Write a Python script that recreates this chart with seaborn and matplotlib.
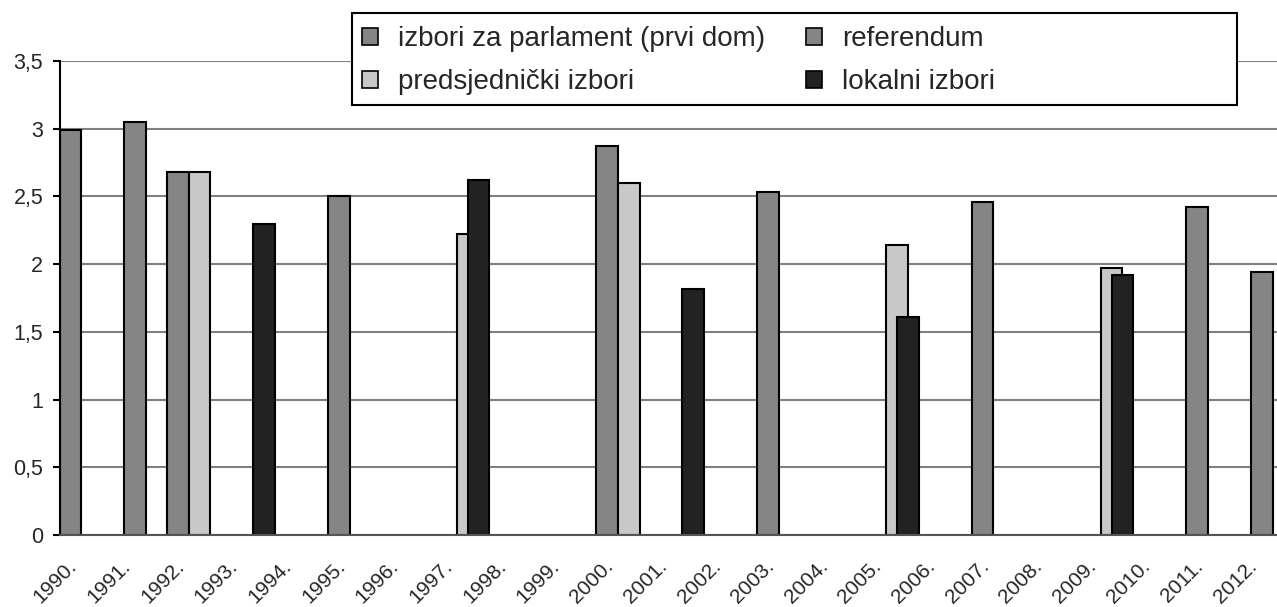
import pandas as pd
import seaborn as sns
import matplotlib.pyplot as plt
import matplotlib.transforms as mtransforms
from matplotlib.patches import Patch, Rectangle

years = ['1990.', '1991.', '1992.', '1993.', '1994.', '1995.', '1996.', '1997.',
         '1998.', '1999.', '2000.', '2001.', '2002.', '2003.', '2004.', '2005.',
         '2006.', '2007.', '2008.', '2009.', '2010.', '2011.', '2012.']

parl_years = ['1990.', '1992.', '1995.', '2000.', '2003.', '2007.', '2011.']
parl_vals = [2.99, 2.68, 2.50, 2.87, 2.53, 2.46, 2.42]
ref_years = ['1991.', '2012.']
ref_vals = [3.05, 1.94]
pres_years = ['1992.', '1997.', '2000.', '2005.', '2009.']
pres_vals = [2.68, 2.22, 2.60, 2.14, 1.97]
local_years = ['1993.', '1997.', '2001.', '2005.', '2009.']
local_vals = [2.30, 2.62, 1.82, 1.61, 1.92]

s_parl = 'izbori za parlament (prvi dom)'
s_ref = 'referendum'
s_pres = 'predsjednički izbori'
s_local = 'lokalni izbori'
hue_order = [s_parl, s_ref, s_pres, s_local]
colors = {s_parl: '#858585', s_ref: '#858585', s_pres: '#c8c8c8', s_local: '#222222'}

yticks = [0, 0.5, 1, 1.5, 2, 2.5, 3, 3.5]
ytick_labels = ['0', '0,5', '1', '1,5', '2', '2,5', '3', '3,5']

df = pd.concat([
    pd.DataFrame({'godina': parl_years, 'vrsta': s_parl, 'vrijednost': parl_vals}),
    pd.DataFrame({'godina': ref_years, 'vrsta': s_ref, 'vrijednost': ref_vals}),
    pd.DataFrame({'godina': pres_years, 'vrsta': s_pres, 'vrijednost': pres_vals}),
    pd.DataFrame({'godina': local_years, 'vrsta': s_local, 'vrijednost': local_vals}),
], ignore_index=True)

sns.set_style('white')
plt.rcParams['font.family'] = ['Liberation Sans', 'DejaVu Sans']

W, H = 1277, 607
fig = plt.figure(figsize=(W / 100, H / 100), dpi=100)
ax = fig.add_axes([60 / W, 72 / H, (W - 60) / W, 474 / H])

sns.barplot(data=df, x='godina', y='vrijednost', hue='vrsta', order=years,
            hue_order=hue_order, palette=colors, width=0.808, saturation=1,
            edgecolor='black', linewidth=1.5, errorbar=None, legend=False, ax=ax)

# bars overlap by half, like the original clustered chart
for p in ax.patches:
    c = p.get_x() + p.get_width() / 2
    p.set_width(0.404)
    p.set_x(c - 0.202)

ax.set_xlim(-0.5, 22.184)
ax.set_ylim(0, 3.5)
ax.set_yticks(yticks)
ax.set_yticklabels(ytick_labels)
ax.set_xlabel('')
ax.set_ylabel('')

ax.yaxis.grid(True, color='#808080', lw=1.5)
ax.set_axisbelow(True)
for side in ['top', 'right']:
    ax.spines[side].set_visible(False)
ax.spines['left'].set_color('black')
ax.spines['left'].set_linewidth(1.5)
ax.spines['bottom'].set_color('#555555')
ax.spines['bottom'].set_linewidth(1.5)

ax.tick_params(axis='y', length=5, width=1.5, pad=7, labelsize=15.5, color='black', left=True)
ax.tick_params(axis='x', length=0, pad=20, labelsize=15)

offset = mtransforms.ScaledTranslation(-13 / 100, 0, fig.dpi_scale_trans)
for tick in ax.xaxis.get_major_ticks():
    lbl = tick.label1
    lbl.set_rotation(45)
    lbl.set_ha('right')
    lbl.set_va('center')
    lbl.set_rotation_mode('anchor')
    lbl.set_transform(lbl.get_transform() + offset)

# legend frame
fig.add_artist(Rectangle((352 / W, 1 - 105 / H), (1237 - 352) / W, (105 - 13) / H,
                         transform=fig.transFigure, facecolor='white',
                         edgecolor='black', lw=1.5, zorder=3))

def handle(name):
    return Patch(facecolor=colors[name], edgecolor='black', linewidth=1.2)

leg_kw = dict(loc='upper left', bbox_transform=fig.transFigure, frameon=False,
              borderpad=0, borderaxespad=0, handlelength=0.58, handleheight=0.58,
              handletextpad=0.72, labelspacing=0.61, fontsize=20)
fig.legend([handle(s_parl), handle(s_pres)], [s_parl, s_pres],
           bbox_to_anchor=(362 / W, 1 - 26 / H), **leg_kw)
fig.legend([handle(s_ref), handle(s_local)], [s_ref, s_local],
           bbox_to_anchor=(806 / W, 1 - 26 / H), **leg_kw)

fig.savefig('out.png', dpi=100)
